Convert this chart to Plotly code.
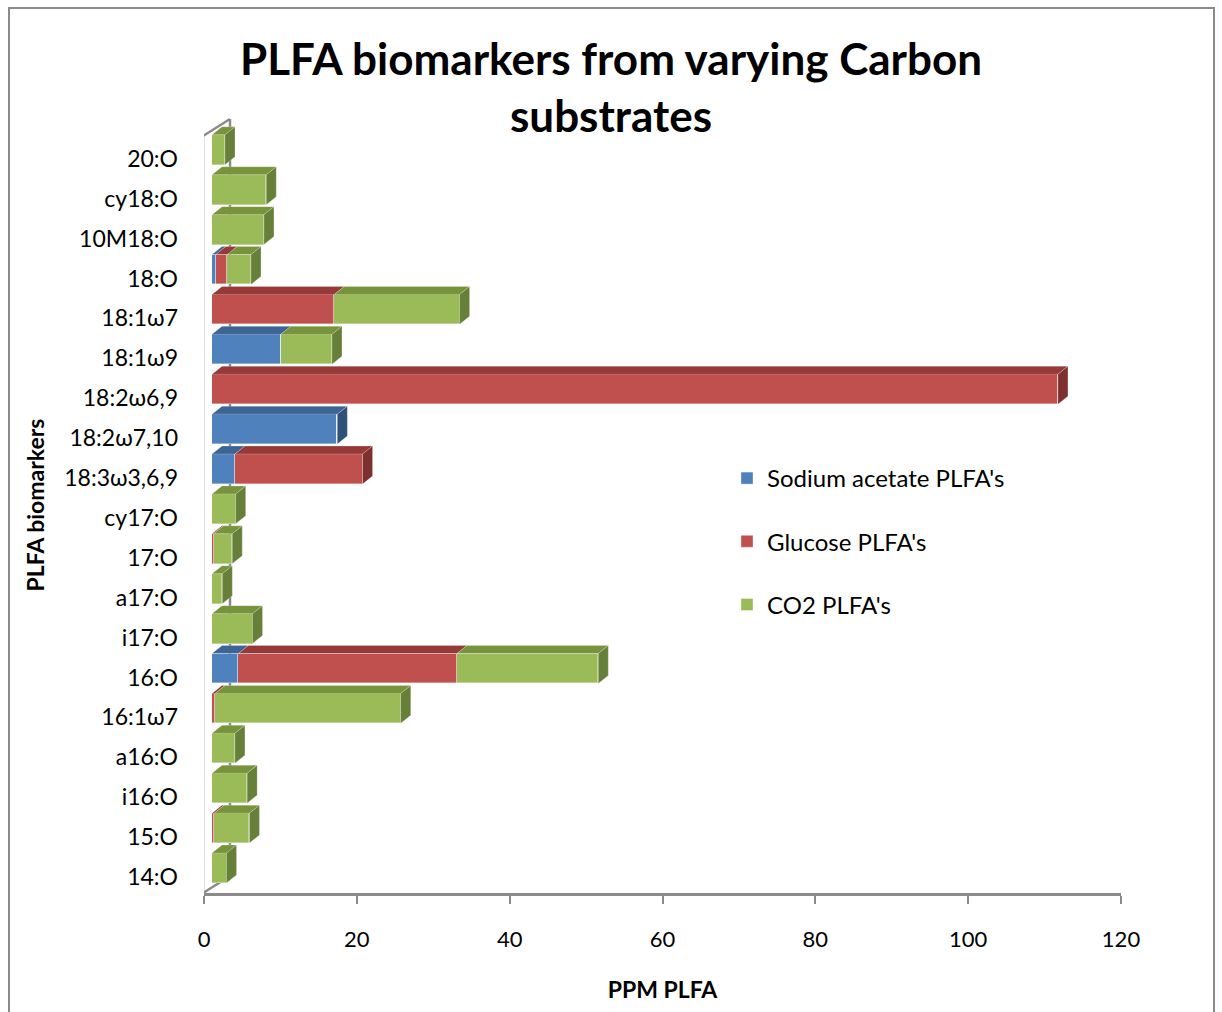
import plotly.graph_objects as go

# ---------------- data (bottom to top) ----------------
labels = ["14:O", "15:O", "i16:O", "a16:O", "16:1ω7", "16:O", "i17:O", "a17:O",
          "17:O", "cy17:O", "18:3ω3,6,9", "18:2ω7,10", "18:2ω6,9", "18:1ω9",
          "18:1ω7", "18:O", "10M18:O", "cy18:O", "20:O"]
sodium_acetate = [0, 0, 0, 0, 0, 3.45, 0, 0, 0, 0, 3.0, 16.4, 0, 9.0, 0, 0.5, 0, 0, 0]
glucose = [0, 0.3, 0, 0, 0.4, 28.6, 0, 0, 0.2, 0, 16.7, 0, 110.7, 0, 16.0, 1.5, 0, 0, 0]
co2 = [1.9, 4.6, 4.6, 3.0, 24.3, 18.5, 5.3, 1.35, 2.45, 3.1, 0, 0, 0, 6.7, 16.4, 3.1, 6.8, 7.1, 1.7]
series_names = ["Sodium acetate PLFA's", "Glucose PLFA's", "CO2 PLFA's"]
x_ticks = [0, 20, 40, 60, 80, 100, 120]

# ---------------- style ----------------
front_cols = ["#4F81BD", "#C0504D", "#9BBB59"]
top_cols = ["#3C6595", "#953A38", "#77933C"]
side_cols = ["#2F5079", "#7E302E", "#66803A"]
FONT = "Lato"
GRAY = "#8A8A8A"

W, H = 1222, 1012
L_PX, R_PX = 204, 1121          # plot area x extent
T_PX, B_PX = 117, 893           # plot area y extent
X_MAX = 120
PXU = (R_PX - L_PX) / X_MAX     # px per x unit
BAR_SHIFT_PX = 8                # 3D: bar front face offset from floor front
Y0_CENTER_PX = 868              # centre of first bar front face
ROW_PX = 39.9
Y_MIN = -(B_PX - Y0_CENTER_PX) / ROW_PX
Y_MAX = (len(labels) - 1) + (Y0_CENTER_PX - (len(labels) - 1) * ROW_PX - T_PX) / ROW_PX
BAR_W = 0.75
DX = 10 / PXU                    # depth offset in x units
DY = 8 / ROW_PX                  # depth offset in y units

def px2x(px):  # pixel -> main x axis value
    return (px - L_PX) / PXU

def px2y(py):
    return Y_MIN + (B_PX - py) / ROW_PX

def px2paper_x(px):
    return (px - L_PX) / (R_PX - L_PX)

def px2paper_y(py):
    return (B_PX - py) / (B_PX - T_PX)

ypos = list(range(len(labels)))
series = [sodium_acetate, glucose, co2]

fig = go.Figure()
for i, (name, vals) in enumerate(zip(series_names, series)):
    fig.add_trace(go.Bar(
        y=ypos, x=vals, orientation="h", name=name, width=BAR_W,
        marker=dict(color=front_cols[i], line=dict(color="rgba(255,255,255,0.45)", width=0.8)),
        xaxis="x2", yaxis="y", legendgroup=f"g{i}",
    ))

# 3D faces (top faces of every segment + right face of outer segment)
shapes = []
for r, yc in enumerate(ypos):
    start = 0.0
    last = None
    for i, vals in enumerate(series):
        v = vals[r]
        if v <= 0:
            continue
        x0, x1 = start, start + v
        yt = yc + BAR_W / 2
        shapes.append(dict(
            type="path", xref="x2", yref="y", layer="above",
            path=f"M{x0},{yt} L{x1},{yt} L{x1+DX},{yt+DY} L{x0+DX},{yt+DY} Z",
            fillcolor=top_cols[i], line=dict(width=0.6, color="rgba(255,255,255,0.35)"),
        ))
        last = (i, x1)
        start = x1
    if last is not None:
        i, x1 = last
        yb, yt = yc - BAR_W / 2, yc + BAR_W / 2
        shapes.append(dict(
            type="path", xref="x2", yref="y", layer="above",
            path=f"M{x1},{yb} L{x1},{yt} L{x1+DX},{yt+DY} L{x1+DX},{yb+DY} Z",
            fillcolor=side_cols[i], line=dict(width=0.6, color="rgba(255,255,255,0.35)"),
        ))

# wall lines (decoration)
wall = dict(color=GRAY, width=2.5)
shapes += [
    dict(type="line", xref="x", yref="y", layer="below",
         x0=px2x(203), x1=px2x(203), y0=px2y(B_PX), y1=px2y(136), line=wall),
    dict(type="line", xref="x", yref="y", layer="below",
         x0=px2x(203), x1=px2x(230), y0=px2y(136), y1=px2y(119), line=wall),
    dict(type="line", xref="x", yref="y", layer="below",
         x0=px2x(230), x1=px2x(230), y0=px2y(119), y1=px2y(876), line=wall),
    dict(type="line", xref="x", yref="y", layer="below",
         x0=px2x(203), x1=px2x(230), y0=px2y(B_PX), y1=px2y(876), line=wall),
    # outer chart border
    dict(type="rect", xref="paper", yref="paper", layer="below",
         x0=px2paper_x(9), x1=px2paper_x(1214), y0=px2paper_y(1040), y1=px2paper_y(8),
         line=dict(color=GRAY, width=2), fillcolor="rgba(0,0,0,0)"),
]

fig.update_layout(
    width=W, height=H,
    margin=dict(l=L_PX, r=W - R_PX, t=T_PX, b=H - B_PX, pad=0),
    paper_bgcolor="white", plot_bgcolor="white",
    barmode="stack", bargap=0,
    font=dict(family=FONT, color="#000000"),
    title=dict(text="<b>PLFA biomarkers from varying Carbon<br>substrates</b>",
               x=611 / W, xanchor="center", y=1 - 75 / H, yanchor="top", yref="container",
               font=dict(family=FONT, size=44, color="#000000")),
    xaxis=dict(range=[0, X_MAX], tickvals=x_ticks, showgrid=False, zeroline=False,
               showline=True, linecolor=GRAY, linewidth=2.5,
               ticks="outside", ticklen=8, tickwidth=2, tickcolor=GRAY,
               tickfont=dict(family=FONT, size=22), ticklabelstandoff=17,
               title=dict(text="<b>PPM PLFA</b>", font=dict(family=FONT, size=23), standoff=31),
               fixedrange=True),
    xaxis2=dict(range=[-BAR_SHIFT_PX / PXU, X_MAX - BAR_SHIFT_PX / PXU], overlaying="x",
                anchor="y", visible=False, fixedrange=True),
    yaxis=dict(range=[Y_MIN, Y_MAX], tickvals=ypos, ticktext=labels, showgrid=False,
               zeroline=False, showline=False, ticks="",
               tickfont=dict(family=FONT, size=23), ticklabelshift=9, ticklabelstandoff=25,
               title=dict(text="<b>PLFA biomarkers</b>", font=dict(family=FONT, size=23), standoff=13),
               fixedrange=True),
    legend=dict(x=px2paper_x(727), y=px2paper_y(456), xanchor="left", yanchor="top",
                traceorder="grouped", tracegroupgap=29, font=dict(family=FONT, size=24),
                bgcolor="rgba(0,0,0,0)", itemwidth=30),
    shapes=shapes,
    showlegend=True,
)

fig.write_html("out.html")
